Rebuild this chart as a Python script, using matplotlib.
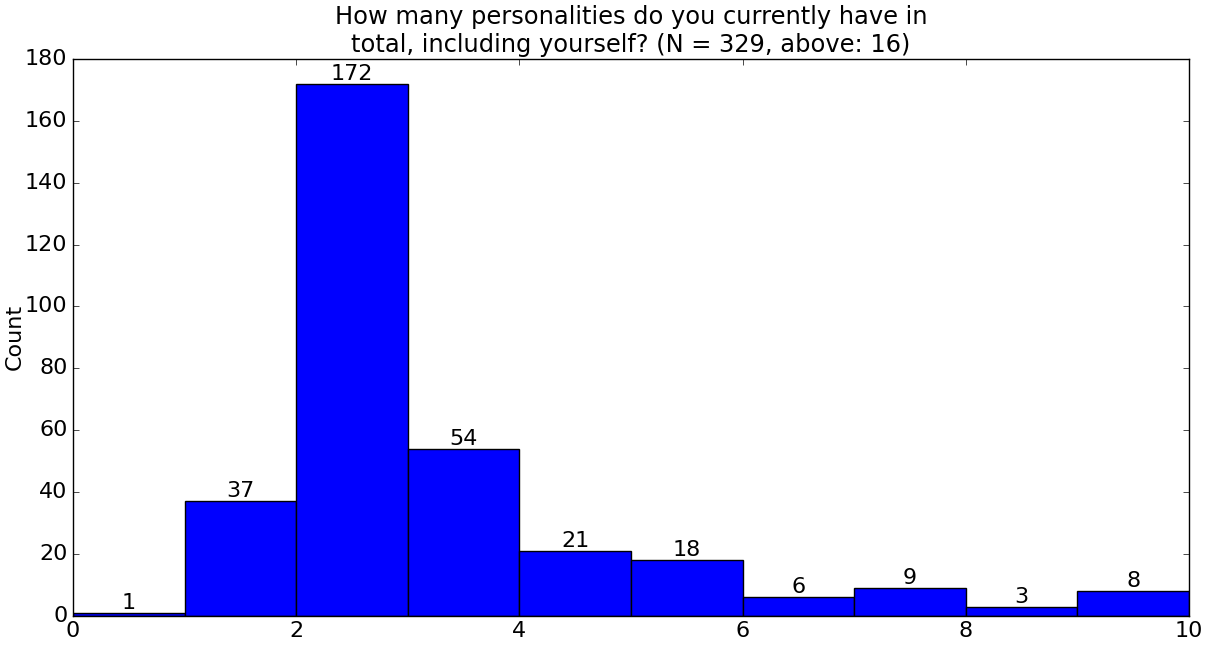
import numpy as np
import matplotlib
matplotlib.use("Agg")
import matplotlib.pyplot as plt

plt.style.use("classic")

# Histogram bins and counts
bin_edges = [0, 1, 2, 3, 4, 5, 6, 7, 8, 9, 10]
counts = [1, 37, 172, 54, 21, 18, 6, 9, 3, 8]
title = "How many personalities do you currently have in\ntotal, including yourself? (N = 329, above: 16)"

fig = plt.figure(figsize=(12.09, 6.47), dpi=100, facecolor="white")
ax = fig.add_axes([0.0604, 0.048, 0.923, 0.861])

lefts = np.array(bin_edges[:-1])
widths = np.diff(bin_edges)
ax.bar(lefts, counts, width=widths, align="edge", color="blue", edgecolor="black", linewidth=1)

for x, w, c in zip(lefts, widths, counts):
    ax.text(x + w / 2, c, str(c), ha="center", va="bottom", fontsize=16)

ax.set_xlim(0, 10)
ax.set_ylim(0, 180)
ax.set_xticks([0, 2, 4, 6, 8, 10])
ax.set_yticks(range(0, 181, 20))
ax.tick_params(labelsize=16, direction="in", top=True, right=True)
ax.set_ylabel("Count", fontsize=16, labelpad=0)
ax.set_title(title, fontsize=17.4)

fig.savefig("out.png", dpi=100, facecolor="white")
